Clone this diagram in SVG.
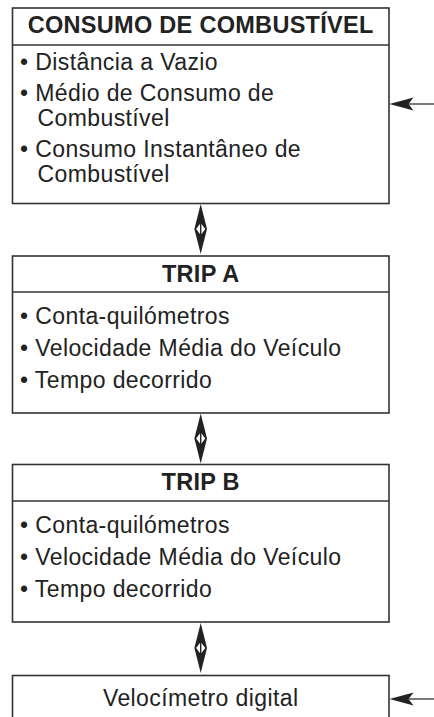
<svg xmlns="http://www.w3.org/2000/svg" width="434" height="717" viewBox="0 0 434 717">
<style>
.box{fill:#fff;stroke:#333;stroke-width:1.6}
.sep{stroke:#333;stroke-width:1.6}
.h{font-family:"Liberation Sans",Arial,sans-serif;font-weight:bold;font-size:23.5px;letter-spacing:0.3px;fill:#222;text-anchor:middle}
.t{font-family:"Liberation Sans",Arial,sans-serif;font-size:23px;letter-spacing:0.4px;fill:#222}
.c{text-anchor:middle}
.ah{fill:#222}
</style>
<defs>
<g id="dbl">
<polygon class="ah" points="0,0 6.3,25 0,50 -6.3,25"/>
<polygon fill="#fff" points="0,19 4.6,25 0,31 -4.6,25"/>
<line x1="0" y1="18" x2="0" y2="32" stroke="#222" stroke-width="1.4"/>
</g>
<g id="la">
<polygon class="ah" points="0,0 24,-6.5 19,0 24,6.5"/>
<line x1="18" y1="0" x2="46" y2="0" stroke="#333" stroke-width="1.3"/>
</g>
</defs>
<g id="node-consumo">
<rect class="box" x="12.5" y="8" width="376.5" height="195.5"/>
<line class="sep" x1="12.5" y1="45" x2="389" y2="45"/>
<text class="h" x="200.7" y="33">CONSUMO DE COMBUSTÍVEL</text>
<text class="t" x="20" y="70">• Distância a Vazio</text>
<text class="t" x="20" y="101">• Médio de Consumo de</text>
<text class="t" x="37.5" y="126">Combustível</text>
<text class="t" x="20" y="157">• Consumo Instantâneo de</text>
<text class="t" x="37.5" y="182">Combustível</text>
</g>
<g id="node-tripa">
<rect class="box" x="12.5" y="256" width="376.5" height="157"/>
<line class="sep" x1="12.5" y1="292" x2="389" y2="292"/>
<text class="h" x="200.7" y="282">TRIP A</text>
<text class="t" x="20" y="324">• Conta-quilómetros</text>
<text class="t" x="20" y="356">• Velocidade Média do Veículo</text>
<text class="t" x="20" y="388">• Tempo decorrido</text>
</g>
<g id="node-tripb">
<rect class="box" x="12.5" y="464.5" width="376.5" height="157.5"/>
<line class="sep" x1="12.5" y1="501" x2="389" y2="501"/>
<text class="h" x="200.7" y="490">TRIP B</text>
<text class="t" x="20" y="533">• Conta-quilómetros</text>
<text class="t" x="20" y="565">• Velocidade Média do Veículo</text>
<text class="t" x="20" y="597">• Tempo decorrido</text>
</g>
<g id="node-velocimetro">
<rect class="box" x="12.5" y="675.5" width="376.5" height="60"/>
<text class="t c" x="200.7" y="706">Velocímetro digital</text>
</g>
<g id="connectors">
<use href="#dbl" x="200.7" y="204"/>
<use href="#dbl" x="200.7" y="413.5"/>
<use href="#dbl" x="200.7" y="623"/>
<use href="#la" x="389.5" y="104"/>
<use href="#la" x="389.5" y="699"/>
</g>
</svg>
